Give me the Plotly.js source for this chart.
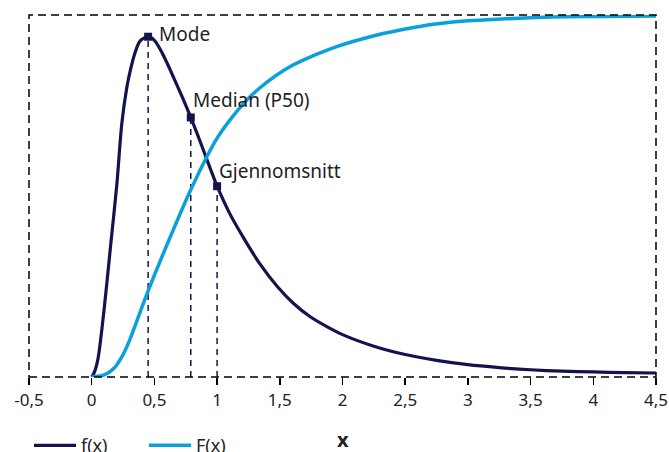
<!DOCTYPE html>
<html>
<head>
<meta charset="utf-8">
<script src="https://cdn.plot.ly/plotly-3.0.1.min.js"></script>
<style>html,body{margin:0;padding:0;background:#fff;}#chart{width:669px;height:452px;}</style>
</head>
<body>
<div id="chart"></div>
<script>
// f(x) – density curve
const fX = [0, 0.02, 0.05, 0.1, 0.15, 0.2, 0.24, 0.28, 0.31, 0.345, 0.385, 0.45, 0.5, 0.55, 0.6, 0.665, 0.72, 0.79, 0.85, 0.9, 0.95, 1.0, 1.1, 1.21, 1.34, 1.48, 1.61, 1.74, 1.875, 2.0, 2.25, 2.5, 2.75, 3.0, 3.25, 3.5, 3.75, 4.0, 4.25, 4.5];
const fY = [0, 0.012, 0.05, 0.19, 0.36, 0.53, 0.70, 0.80, 0.85, 0.895, 0.928, 0.94, 0.93, 0.903, 0.868, 0.818, 0.775, 0.717, 0.664, 0.618, 0.572, 0.527, 0.452, 0.385, 0.313, 0.250, 0.203, 0.167, 0.139, 0.117, 0.085, 0.062, 0.046, 0.034, 0.026, 0.020, 0.016, 0.014, 0.012, 0.011];
// F(x) – cumulative curve
const cX = [0, 0.1, 0.18, 0.25, 0.3, 0.45, 0.65, 0.79, 0.91, 1.0, 1.13, 1.25, 1.4, 1.53, 1.66, 1.93, 2.2, 2.47, 2.74, 3.0, 3.27, 3.54, 3.8, 4.1, 4.5];
const cY = [0, 0.006, 0.025, 0.062, 0.1, 0.238, 0.406, 0.517, 0.603, 0.66, 0.722, 0.77, 0.815, 0.847, 0.871, 0.91, 0.938, 0.959, 0.975, 0.984, 0.989, 0.993, 0.995, 0.996, 0.997];
// key points
const keyX = [0.45, 0.79, 1.0];
const keyY = [0.94, 0.717, 0.527];
const keyLabels = ["Mode", "Median (P50)", "Gjennomsnitt"];
// axis ticks
const tickVals = [-0.5, 0, 0.5, 1, 1.5, 2, 2.5, 3, 3.5, 4, 4.5];
const tickText = ["-0,5", "0", "0,5", "1", "1,5", "2", "2,5", "3", "3,5", "4", "4,5"];
const seriesNames = ["f(x)", "F(x)"];
const xTitle = "x";

const NAVY = '#13134f';
const BLUE = '#0aa0dc';
const FONT = 'Noto Sans, sans-serif';

const dropX = [], dropY = [];
keyX.forEach((x, i) => { dropX.push(x, x, null); dropY.push(0, keyY[i], null); });

const traces = [
  {x: dropX, y: dropY, mode: 'lines', line: {color: NAVY, width: 1.5, dash: '6px,5px'}, showlegend: false, hoverinfo: 'skip'},
  {x: fX, y: fY, name: seriesNames[0], mode: 'lines', line: {color: NAVY, width: 3.2, shape: 'spline', smoothing: 0.8}},
  {x: cX, y: cY, name: seriesNames[1], mode: 'lines', line: {color: BLUE, width: 3.5, shape: 'spline', smoothing: 0.8}},
  {x: keyX, y: keyY, mode: 'markers', marker: {symbol: 'square', size: 8, color: NAVY}, showlegend: false}
];

const shifts = [[9, 3], [0, 17], [0, 15]];
const annotations = keyLabels.map((t, i) => ({
  x: keyX[i], y: keyY[i], xref: 'x', yref: 'y', text: t, showarrow: false,
  xanchor: 'left', yanchor: 'middle', xshift: shifts[i][0], yshift: shifts[i][1],
  font: {family: FONT, size: 19, color: '#222'}
}));
annotations.push({
  x: 0.5, xref: 'paper', y: -0.174, yref: 'paper', text: '<b>' + xTitle + '</b>', showarrow: false,
  xanchor: 'center', yanchor: 'middle', font: {family: FONT, size: 20, color: '#222'}
});

const layout = {
  width: 669, height: 452,
  margin: {l: 29, r: 13, t: 15, b: 75},
  paper_bgcolor: '#fff', plot_bgcolor: '#fff',
  font: {family: FONT, color: '#222'},
  xaxis: {
    range: [-0.5, 4.5], tickvals: tickVals, ticktext: tickText,
    ticks: 'outside', ticklen: 7, tickwidth: 1.5, tickcolor: '#000',
    ticklabelstandoff: 1, automargin: false,
    showgrid: false, zeroline: false, showline: false,
    tickfont: {family: FONT, size: 17, color: '#222'}
  },
  yaxis: {range: [0, 1], showticklabels: false, ticks: '', showgrid: false, zeroline: false, showline: false, automargin: false},
  showlegend: true,
  legend: {orientation: 'h', x: 0.0, xanchor: 'left', xref: 'paper', y: 0.014, yanchor: 'middle', yref: 'container',
           font: {family: FONT, size: 18, color: '#222'}, entrywidth: 58, entrywidthmode: 'pixels', itemwidth: 42},
  shapes: [{type: 'rect', xref: 'paper', yref: 'paper', x0: 0, x1: 1, y0: 0, y1: 1,
            line: {color: '#000', width: 1.5, dash: '8px,5px'}, layer: 'above'}],
  annotations: annotations
};

Plotly.newPlot('chart', traces, layout, {displayModeBar: false, staticPlot: true});
</script>
</body>
</html>
